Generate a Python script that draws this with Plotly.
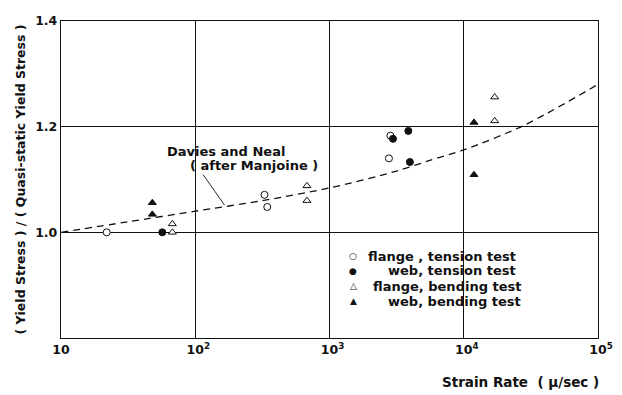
import plotly.graph_objects as go

# ---------------- data ----------------
flange_tension_x = [21.9, 328, 344, 2840, 2772]
flange_tension_y = [1.000, 1.071, 1.048, 1.183, 1.140]

web_tension_x = [56.8, 2970, 3866, 3972]
web_tension_y = [1.000, 1.177, 1.192, 1.133]

flange_bending_x = [67.5, 67.5, 679, 679, 16990, 16990]
flange_bending_y = [1.016, 1.000, 1.088, 1.060, 1.256, 1.211]

web_bending_x = [47.9, 47.9, 11920, 11920]
web_bending_y = [1.056, 1.034, 1.208, 1.109]

# Davies and Neal (after Manjoine) curve
curve_x = [10, 31.6, 100, 316, 1000, 3162, 5570, 10000, 28400, 100000]
curve_y = [1.000, 1.020, 1.040, 1.060, 1.084, 1.116, 1.136, 1.156, 1.203, 1.280]

SP = "<sup>\u2007</sup>"
x_tickvals = [10, 100, 1000, 10000, 100000]
x_ticktext = ["10", SP + "10<sup>2</sup>", SP + "10<sup>3</sup>",
              SP + "10<sup>4</sup>", SP + "10<sup>5</sup>"]
y_tickvals = [1.0, 1.2, 1.4]
y_ticktext = ["1.0", "1.2", "1.4"]

legend_labels = ["flange , tension test", "web, tension test",
                 "flange, bending test", "web, bending test"]
legend_symbols = ["○", "●", "△", "▲"]

# ---------------- layout geometry ----------------
W, H = 622, 395
L, R, T, B = 61, 24, 21, 57
PW, PH = W - L - R, H - T - B

def px(xp):
    return (xp - L) / PW

def py(yp):
    return 1 - (yp - T) / PH

FONT = "DejaVu Sans"
BLACK = "#111111"

def f(size):
    return dict(family=FONT, size=size, color=BLACK, weight="bold")

fig = go.Figure()

fig.add_trace(go.Scatter(
    x=curve_x, y=curve_y, mode="lines",
    line=dict(color=BLACK, width=1.3, dash="7px,5px", shape="spline", smoothing=0.8),
    showlegend=False, hoverinfo="skip"))

marker_line = dict(color=BLACK, width=1)
fig.add_trace(go.Scatter(x=flange_tension_x, y=flange_tension_y, mode="markers",
                         marker=dict(symbol="circle", size=7, color="white", line=marker_line),
                         name=legend_labels[0], showlegend=False))
fig.add_trace(go.Scatter(x=web_tension_x, y=web_tension_y, mode="markers",
                         marker=dict(symbol="circle", size=7, color=BLACK, line=marker_line),
                         name=legend_labels[1], showlegend=False))
fig.add_trace(go.Scatter(x=flange_bending_x, y=flange_bending_y, mode="markers",
                         marker=dict(symbol="triangle-up", size=7, color="white", line=marker_line),
                         name=legend_labels[2], showlegend=False))
fig.add_trace(go.Scatter(x=web_bending_x, y=web_bending_y, mode="markers",
                         marker=dict(symbol="triangle-up", size=7, color=BLACK, line=marker_line),
                         name=legend_labels[3], showlegend=False))

annotations = []
# curve label
annotations.append(dict(x=px(226), y=py(151.5), xref="paper", yref="paper",
                        xanchor="center", yanchor="middle",
                        text="Davies and Neal", showarrow=False, font=f(13)))
annotations.append(dict(x=px(254), y=py(165.5), xref="paper", yref="paper",
                        xanchor="center", yanchor="middle",
                        text="( after Manjoine )", showarrow=False, font=f(13)))

# legend (manual, right-aligned text)
leg_rows = [256, 270.5, 286, 301]
leg_right = [518, 518, 523, 523]
for lab, sym, yr, xr in zip(legend_labels, legend_symbols, leg_rows, leg_right):
    annotations.append(dict(x=px(353), y=py(yr), xref="paper", yref="paper",
                            xanchor="center", yanchor="middle",
                            text=sym, showarrow=False,
                            font=dict(family=FONT, size=9, color=BLACK)))
    annotations.append(dict(x=px(xr), y=py(yr), xref="paper", yref="paper",
                            xanchor="right", yanchor="middle",
                            text=lab, showarrow=False, font=f(13)))

# x-axis title at right
annotations.append(dict(x=px(601), y=py(381.5), xref="paper", yref="paper",
                        xanchor="right", yanchor="middle",
                        text="Strain Rate  ( μ/sec )", showarrow=False, font=f(13.5)))

shapes = [dict(type="line", xref="paper", yref="paper",
               x0=px(203), y0=py(174.5), x1=px(224.5), y1=py(205),
               line=dict(color=BLACK, width=0.9))]

fig.update_layout(
    width=W, height=H,
    margin=dict(l=L, r=R, t=T, b=B, autoexpand=False),
    paper_bgcolor="white", plot_bgcolor="white",
    font=f(13),
    annotations=annotations, shapes=shapes,
    showlegend=False,
    xaxis=dict(type="log", range=[1, 5], tickvals=x_tickvals, ticktext=x_ticktext,
               showgrid=True, gridcolor=BLACK, gridwidth=1,
               showline=True, linecolor=BLACK, linewidth=1.4, mirror=True,
               ticks="", zeroline=False, tickfont=f(12.5), automargin=False),
    yaxis=dict(range=[0.8, 1.4], tickvals=y_tickvals, ticktext=y_ticktext,
               showgrid=True, gridcolor=BLACK, gridwidth=1,
               showline=True, linecolor=BLACK, linewidth=1.4, mirror=True,
               ticks="", zeroline=False, tickfont=f(12.5), automargin=False,
               title=dict(text="( Yield Stress ) / ( Quasi-static Yield Stress )",
                          font=f(12.5), standoff=6)),
)

fig.write_html("out.html", config={"displayModeBar": False},
               post_script="document.body.style.margin='0';document.body.style.padding='0';")
